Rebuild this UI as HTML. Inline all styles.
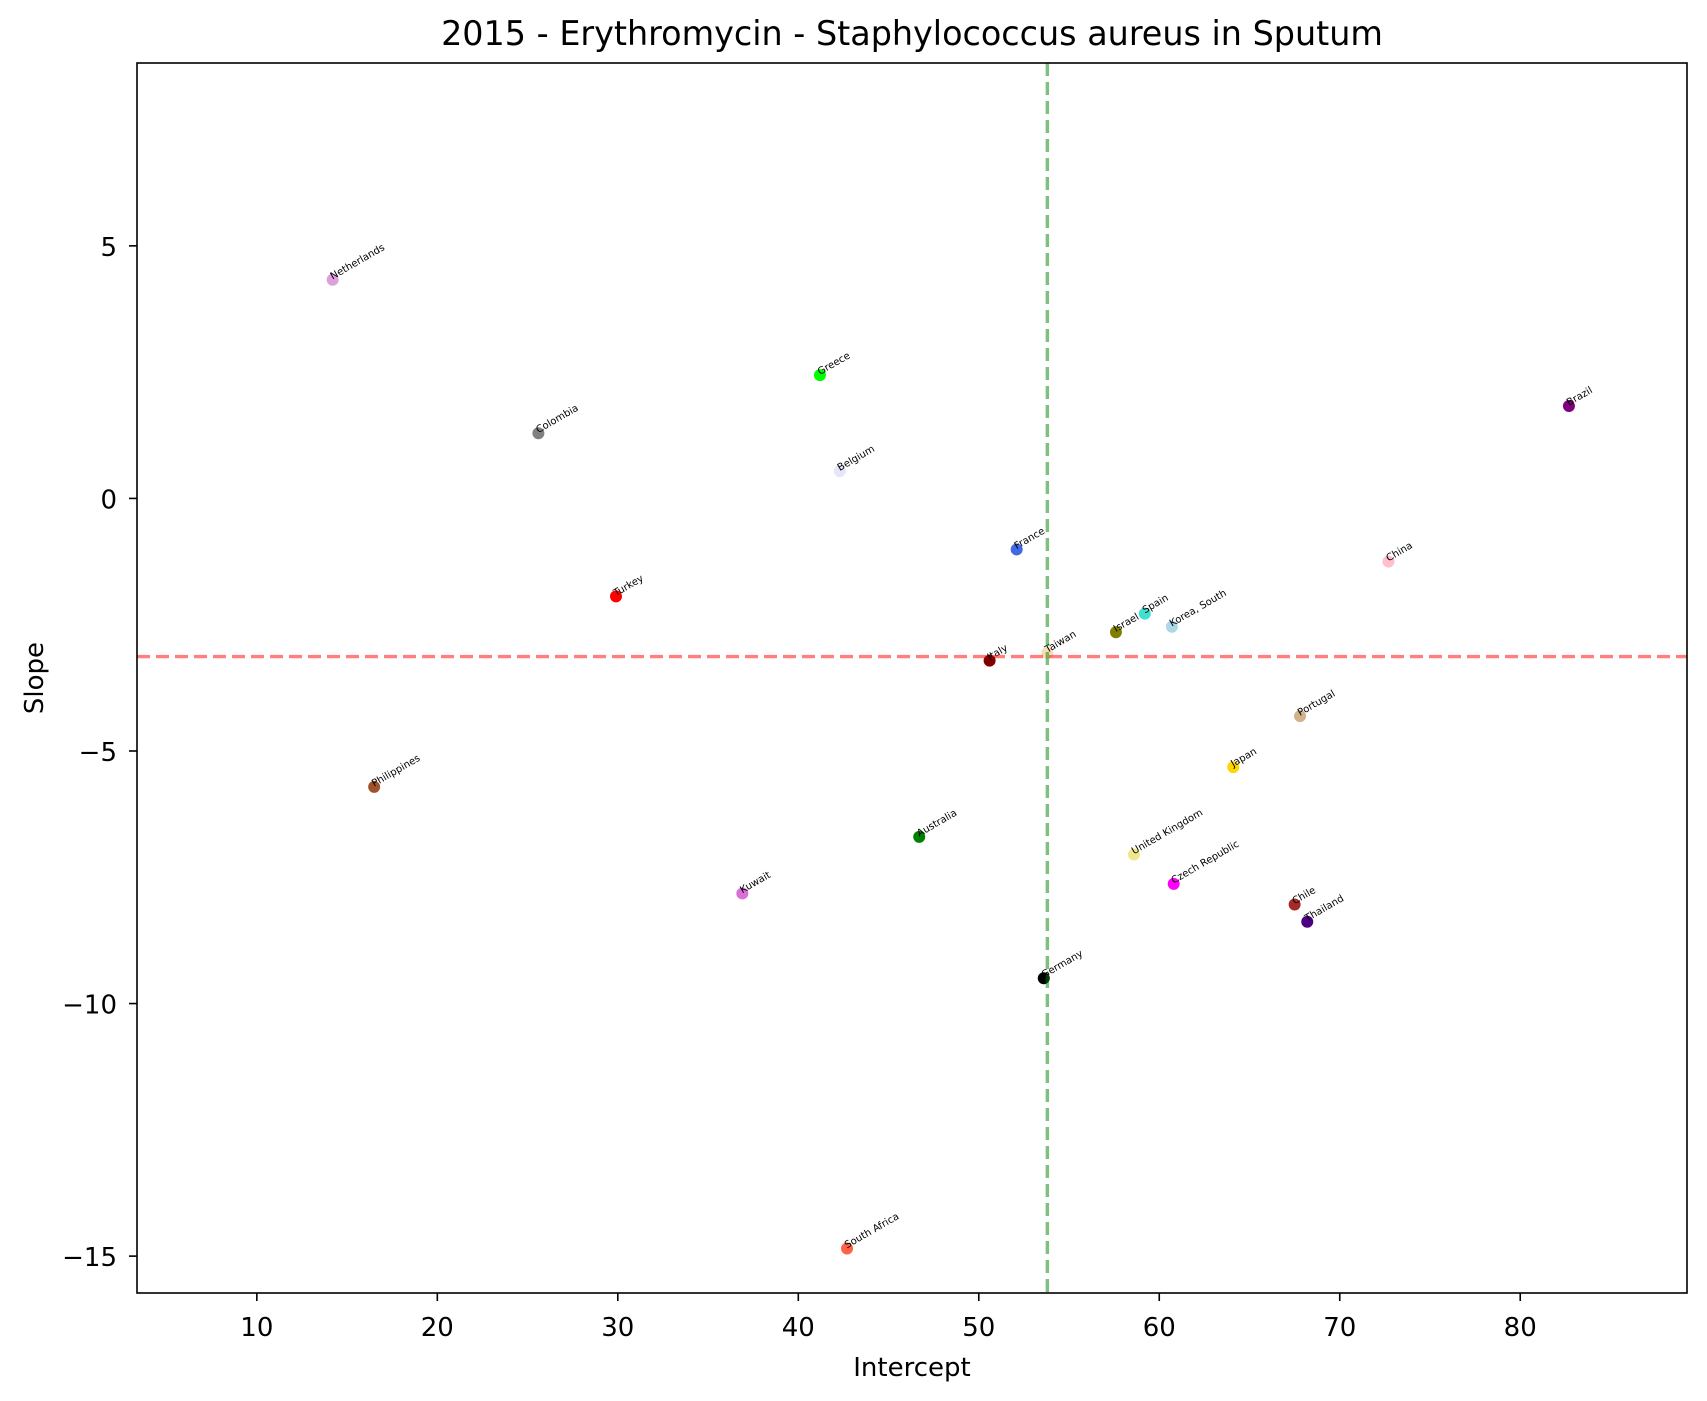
<!DOCTYPE html>
<html><head><meta charset="utf-8"><style>
body{margin:0;background:#fff;}
svg{display:block;font-family:"DejaVu Sans","Liberation Sans",sans-serif;}
</style></head><body>
<svg id="chart" width="1707" height="1401" viewBox="0 0 1707 1401" xmlns="http://www.w3.org/2000/svg">
<rect width="1707" height="1401" fill="#fff"/>
<text x="912" y="45" font-size="33.4" text-anchor="middle" fill="#000">2015 - Erythromycin - Staphylococcus aureus in Sputum</text>
<g id="plot"></g>
<rect x="137" y="63" width="1550" height="1230" fill="none" stroke="#000" stroke-width="1.6"/>
<text x="912" y="1376" font-size="26" text-anchor="middle">Intercept</text>
<text x="43" y="678" font-size="26" text-anchor="middle" transform="rotate(-90 43 678)">Slope</text>
</svg>
<script>
const countries=["Netherlands","Greece","Colombia","Belgium","Brazil","France","China","Turkey","Spain","Israel","Korea, South","Taiwan","Italy","Portugal","Japan","Philippines","Australia","United Kingdom","Czech Republic","Kuwait","Chile","Thailand","Germany","South Africa"];
const intercepts=[14.2,41.2,25.6,42.3,82.7,52.1,72.7,29.9,59.2,57.6,60.7,53.8,50.6,67.8,64.1,16.5,46.7,58.6,60.8,36.9,67.5,68.2,53.6,42.7];
const slopes=[4.33,2.44,1.29,0.54,1.83,-1.01,-1.25,-1.94,-2.28,-2.65,-2.54,-3.06,-3.21,-4.31,-5.32,-5.71,-6.70,-7.05,-7.63,-7.82,-8.04,-8.38,-9.50,-14.85];
const colors=["plum","lime","gray","lavender","purple","royalblue","pink","red","turquoise","olive","lightblue","wheat","maroon","tan","gold","sienna","green","khaki","magenta","orchid","brown","indigo","black","tomato"];
const xTicks=[10,20,30,40,50,60,70,80];
const yTicks=[5,0,-5,-10,-15];
const yTickLabels=["5","0","\u22125","\u221210","\u221215"];
const meanIntercept=53.8, meanSlope=-3.13;
const L=137,R=1687,T=63,B=1293,x0=3.36,x1=89.24,y0=-15.73,y1=8.62;
const X=v=>L+(v-x0)/(x1-x0)*(R-L);
const Y=v=>B-(v-y0)/(y1-y0)*(B-T);
const ns="http://www.w3.org/2000/svg",svg=document.getElementById('chart'),g=document.getElementById('plot');
function mk(t,a,p){const e=document.createElementNS(ns,t);for(const k in a)e.setAttribute(k,a[k]);(p||g).appendChild(e);return e;}
xTicks.forEach(v=>{const x=X(v);
const l=mk('line',{x1:x,x2:x,y1:B,y2:B+8,stroke:'#000','stroke-width':1.6},svg);

const t=mk('text',{x:x,y:B+43,'font-size':26,'text-anchor':'middle'},svg);t.textContent=v;
});
yTicks.forEach((v,i)=>{const y=Y(v);
const l=mk('line',{x1:L-8,x2:L,y1:y,y2:y,stroke:'#000','stroke-width':1.6},svg);

const t=mk('text',{x:L-20,y:y+10,'font-size':26,'text-anchor':'end'},svg);t.textContent=yTickLabels[i];
});
countries.forEach((c,i)=>{const x=X(intercepts[i]),y=Y(slopes[i]);
const p=mk('circle',{cx:x,cy:y,r:6,fill:colors[i]});


const t=mk('text',{x:x,y:y,'font-size':10,transform:`rotate(-30 ${x} ${y})`});t.textContent=c;
});
const vl=mk('line',{x1:X(meanIntercept),x2:X(meanIntercept),y1:T,y2:B,stroke:'green','stroke-opacity':0.5,'stroke-width':3.4,'stroke-dasharray':'13,6'});

const hl=mk('line',{x1:L,x2:R,y1:Y(meanSlope),y2:Y(meanSlope),stroke:'red','stroke-opacity':0.5,'stroke-width':3.4,'stroke-dasharray':'13,6'});

</script>
</body></html>
